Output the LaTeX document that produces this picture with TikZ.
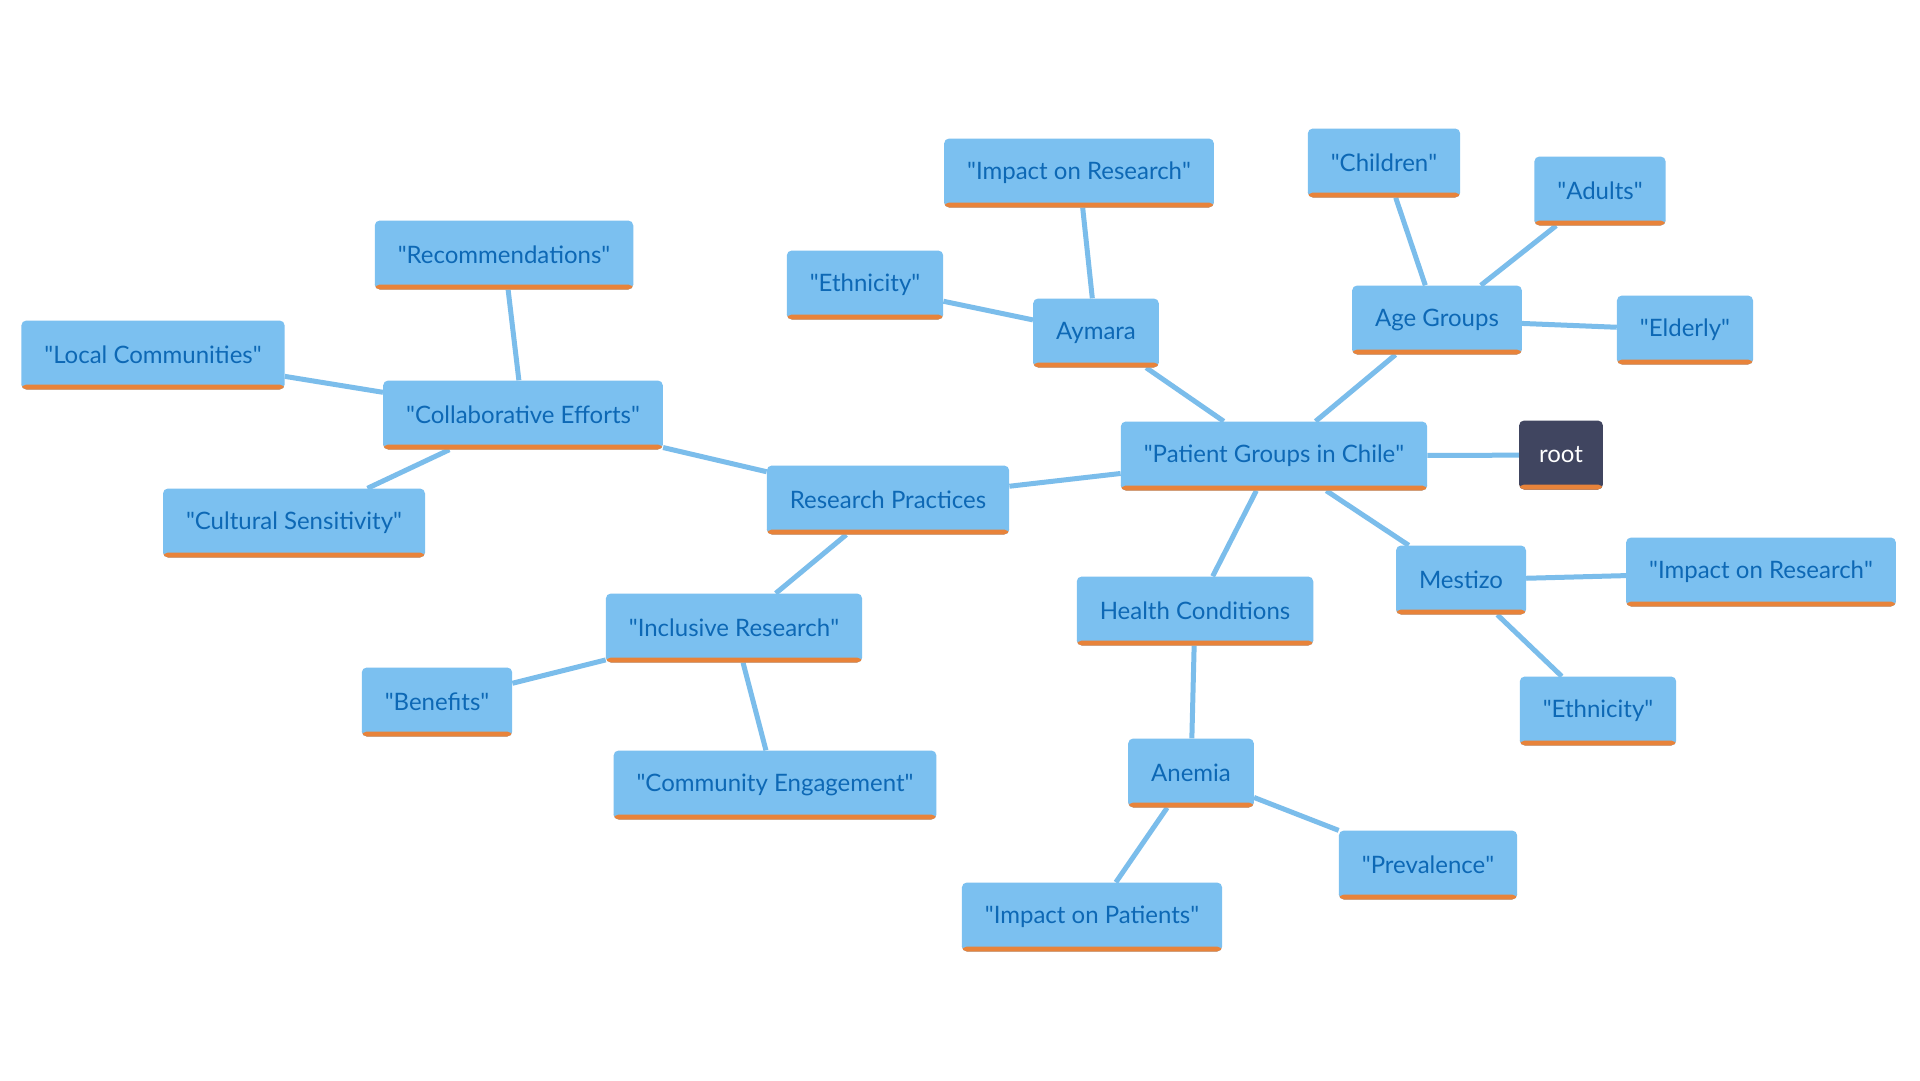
\documentclass[tikz,border=0pt]{standalone}
\usepackage{fontspec}
\setmainfont{Lato}
\definecolor{topicfill}{HTML}{7BC0F0}
\definecolor{topictext}{HTML}{0D68B5}
\definecolor{barorange}{HTML}{E8833A}
\definecolor{rootfill}{HTML}{404560}
\definecolor{linkblue}{HTML}{7BBDEB}
\pgfdeclarelayer{background}
\pgfsetlayers{background,main}
\newcommand{\qt}[1]{\textquotedbl#1\textquotedbl}

\begin{document}
\begin{tikzpicture}
[x=1pt,y=-1pt,
every node/.style={shape=rectangle,rounded corners=5pt,fill=topicfill,text=topictext,
  font=\fontsize{24}{28}\selectfont,minimum height=69pt,inner xsep=23pt,inner ysep=0pt,
  path picture={\fill[barorange] (path picture bounding box.south west)
    rectangle ([yshift=5pt]path picture bounding box.south east);}},
rootnode/.style={fill=rootfill,text=white,inner xsep=20pt},
link/.style={draw=linkblue,line width=5pt}]

\node[rootnode] (root) at (1561,455) {root};
\node (pgc) at (1274,456) {\qt{Patient Groups in Chile}};

\node (rp) at (888,500) {Research Practices};
\node (ce) at (523,415) {\qt{Collaborative Efforts}};
\node (rec) at (504,255) {\qt{Recommendations}};
\node (lc) at (153,355) {\qt{Local Communities}};
\node (cs) at (294,523) {\qt{Cultural Sensitivity}};
\node (ir) at (734,628) {\qt{Inclusive Research}};
\node (ben) at (437,702) {\qt{Benefits}};
\node (comm) at (775,785) {\qt{Community Engagement}};

\node (hc) at (1195,611) {Health Conditions};
\node (an) at (1191,773) {Anemia};
\node (prev) at (1428,865) {\qt{Prevalence}};
\node (iop) at (1092,917) {\qt{Impact on Patients}};

\node (mes) at (1461,580) {Mestizo};
\node (mesimp) at (1761,572) {\qt{Impact on Research}};
\node (meseth) at (1598,711) {\qt{Ethnicity}};

\node (aym) at (1096,333) {Aymara};
\node (aymeth) at (865,285) {\qt{Ethnicity}};
\node (aymimp) at (1079,173) {\qt{Impact on Research}};

\node (age) at (1437,320) {Age Groups};
\node (chi) at (1384,163) {\qt{Children}};
\node (adu) at (1600,191) {\qt{Adults}};
\node (eld) at (1685,330) {\qt{Elderly}};

\begin{pgfonlayer}{background}
\fill[white] (0,0) rectangle (1920,1080);
\draw[link] (root) -- (pgc);
\draw[link] (pgc) -- (rp);
\draw[link] (pgc) -- (aym);
\draw[link] (pgc) -- (age);
\draw[link] (pgc) -- (mes);
\draw[link] (pgc) -- (hc);
\draw[link] (rp) -- (ce);
\draw[link] (rp) -- (ir);
\draw[link] (ce) -- (rec);
\draw[link] (ce) -- (lc);
\draw[link] (ce) -- (cs);
\draw[link] (ir) -- (ben);
\draw[link] (ir) -- (comm);
\draw[link] (hc) -- (an);
\draw[link] (an) -- (prev);
\draw[link] (an) -- (iop);
\draw[link] (mes) -- (mesimp);
\draw[link] (mes) -- (meseth);
\draw[link] (aym) -- (aymeth);
\draw[link] (aym) -- (aymimp);
\draw[link] (age) -- (chi);
\draw[link] (age) -- (adu);
\draw[link] (age) -- (eld);
\end{pgfonlayer}
\end{tikzpicture}
\end{document}
